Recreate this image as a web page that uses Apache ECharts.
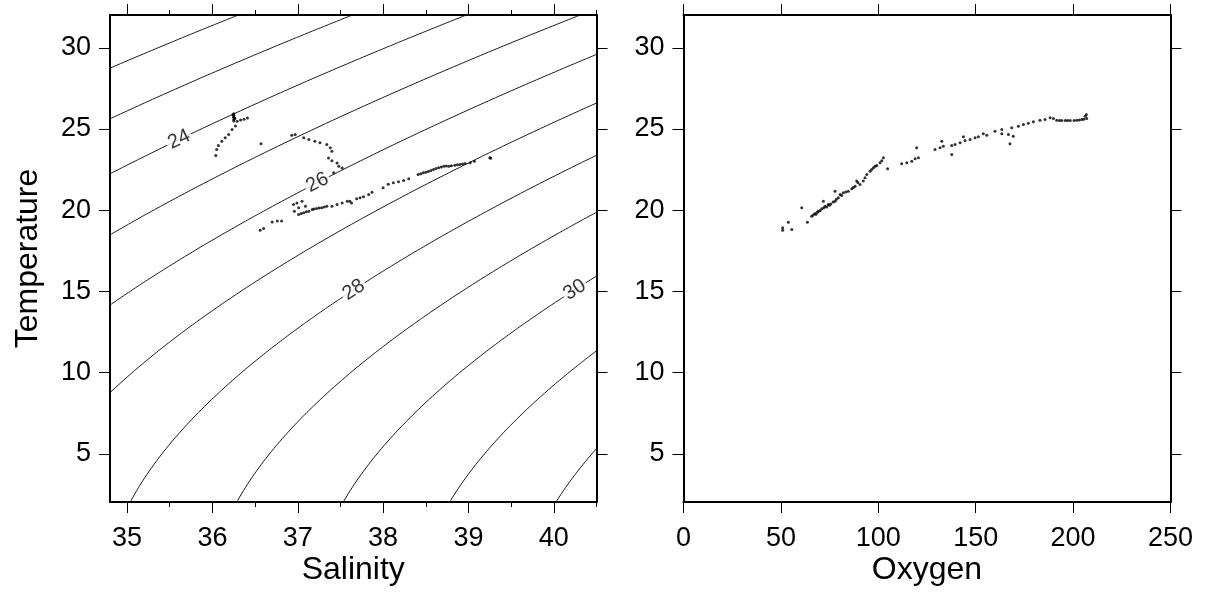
<!DOCTYPE html>
<html><head><meta charset="utf-8">
<script src="https://cdn.jsdelivr.net/npm/echarts@6/dist/echarts.min.js"></script>
<style>html,body{margin:0;padding:0;background:#fff}#c{width:1209px;height:606px}</style>
</head><body><div id="c"></div>
<script>
// ---------- data ----------
const salinityRange = [34.80, 40.50];
const tempRange = [2.03, 32.02];
const oxygenRange = [0, 250];
const salinityTicks = [35, 36, 37, 38, 39, 40];
const salinityMinorTicks = [35.5, 36.5, 37.5, 38.5, 39.5, 40.5];
const tempTicks = [5, 10, 15, 20, 25, 30];
const oxygenTicks = [0, 50, 100, 150, 200, 250];
const densityLevels = [22, 23, 24, 25, 26, 27, 28, 29, 30, 31, 32];
const labelLevels = [24, 26, 28, 30];
const labelTemps = [24.35, 21.7, 15.1, 15.1];

const tsSalinity = [
  36.25,36.25,36.25,36.25,36.26,36.25,36.25,36.29,36.33,36.37,36.41,36.27,36.23,36.19,36.15,36.11,36.07,36.05,36.04,36.57,
  36.93,36.97,37.07,37.13,37.20,37.26,37.34,37.38,37.40,37.36,37.40,37.46,37.48,37.52,37.42,
  36.95,36.99,37.05,37.01,37.09,36.96,37.01,37.07,37.13,37.17,37.22,37.28,37.34,37.40,37.46,37.52,37.58,37.63,36.56,36.60,36.70,36.76,36.81,
  37.61,37.69,37.73,37.77,37.83,37.87,38.00,38.06,38.12,38.18,38.24,38.30,38.41,38.47,38.53,38.59,38.65,38.71,38.77,38.84,38.90,38.96,39.02,39.07,39.25,
  38.68,38.74,38.80,38.87,38.93,39.26,37.04,37.10,37.19,37.25,37.31,38.44,38.50,38.56,38.62,36.24,36.26
];
const tsTemperature = [
  25.94,25.83,25.76,25.71,25.64,25.58,25.50,25.48,25.56,25.60,25.67,25.18,24.97,24.66,24.46,24.25,23.99,23.74,23.37,24.09,
  24.62,24.66,24.46,24.35,24.25,24.15,24.04,23.84,23.63,23.22,23.05,22.91,22.70,22.60,22.30,
  20.35,20.45,20.55,20.15,20.25,19.94,19.74,19.84,19.94,20.05,20.11,20.15,20.25,20.25,20.35,20.45,20.55,20.45,18.77,18.87,19.28,19.34,19.34,
  20.55,20.70,20.76,20.83,20.97,21.11,21.38,21.59,21.69,21.75,21.83,21.94,22.20,22.30,22.38,22.51,22.61,22.71,22.71,22.77,22.82,22.88,22.92,23.02,23.23,
  22.66,22.72,22.74,22.80,22.85,23.20,19.80,19.90,20.08,20.13,20.20,22.25,22.34,22.45,22.56,25.88,25.66
];

const oxOxygen = [
  50.9,50.9,53.8,55.6,60.7,63.6,65.8,67.5,69.2,71.0,72.7,74.3,71.8,77.8,77.8,79.5,80.4,82.0,84.6,86.4,88.1,88.9,90.6,92.3,94.1,95.8,97.5,99.2,100.9,102.6,104.8,
  68.0,70.2,73.5,75.6,76.8,81.2,89.5,96.6,98.4,101.8,66.6,68.8,72.0,74.9,78.5,83.3,87.2,93.2,
  112.0,114.6,117.2,118.9,120.6,119.7,129.1,131.7,133.4,132.6,137.7,137.7,139.4,142.0,143.7,144.5,147.1,149.7,151.4,153.9,155.7,159.9,163.4,163.4,166.8,167.6,168.5,169.3,
  171.9,174.5,177.0,179.6,183.0,185.6,188.2,189.9,191.6,194.2,196.0,198.5,200.5,201.9,204.5,206.2,207.0,206.8,205.5,193.0,197.2,203.2
];
const oxTemperature = [
  18.92,18.77,19.26,18.81,20.15,19.26,19.63,19.80,19.94,20.09,20.25,20.35,20.55,21.17,20.55,20.76,20.97,21.07,21.17,21.32,21.48,21.79,21.58,21.79,22.20,22.40,22.61,22.75,22.92,23.23,22.55,
  19.75,19.98,20.20,20.38,20.50,20.90,21.70,22.50,22.70,23.05,19.70,19.88,20.15,20.30,20.68,21.12,21.40,22.00,
  22.86,22.92,23.02,23.17,23.23,23.84,23.74,23.84,23.94,24.25,23.43,23.98,24.05,24.15,24.52,24.29,24.35,24.46,24.52,24.70,24.62,24.86,24.97,24.70,24.66,24.09,25.07,24.56,
  25.17,25.28,25.36,25.44,25.54,25.58,25.69,25.65,25.54,25.52,25.52,25.52,25.53,25.54,25.58,25.79,25.65,25.90,25.60,25.52,25.52,25.55
];

// ---------- seawater density (UNESCO 1980, surface) for isopycnals ----------
function rho(S, T) {
  const rw = 999.842594 + 6.793952e-2*T - 9.095290e-3*T*T + 1.001685e-4*T**3 - 1.120083e-6*T**4 + 6.536332e-9*T**5;
  const A = 8.24493e-1 - 4.0899e-3*T + 7.6438e-5*T*T - 8.2467e-7*T**3 + 5.3875e-9*T**4;
  const B = -5.72466e-3 + 1.0227e-4*T - 1.6546e-6*T*T;
  const C = 4.8314e-4;
  return rw + A*S + B*Math.pow(S, 1.5) + C*S*S;
}
function solveS(sig, T) {
  let lo = 20, hi = 50;
  for (let i = 0; i < 60; i++) {
    const m = (lo + hi) / 2;
    if (rho(m, T) - 1000 < sig) lo = m; else hi = m;
  }
  return (lo + hi) / 2;
}

const F = '"Liberation Sans", Arial, Helvetica, sans-serif';
const TICK_FS = 27, NAME_FS = 32;
const gridL = {left: 110, top: 15, width: 486.5, height: 487};
const gridR = {left: 683.5, top: 15, width: 487, height: 487};

const contourSeries = densityLevels.map(lv => {
  const pts = [];
  for (let T = tempRange[0] - 0.5; T <= tempRange[1] + 0.5; T += 0.1) pts.push([solveS(lv, T), T]);
  return {
    type: 'line', xAxisIndex: 0, yAxisIndex: 0, data: pts, showSymbol: false, symbol: 'none',
    lineStyle: {color: '#000', width: 0.9}, clip: true, silent: true, z: 2
  };
});

const pxPerS = gridL.width / (salinityRange[1] - salinityRange[0]);
const pxPerT = gridL.height / (tempRange[1] - tempRange[0]);
const labelData = labelLevels.map((lv, i) => {
  const T = labelTemps[i];
  const S = solveS(lv, T);
  const dS = solveS(lv, T + 0.5) - solveS(lv, T - 0.5);
  const ang = Math.atan2(1 * pxPerT, dS * pxPerS) * 180 / Math.PI;
  return {value: [S, T], name: String(lv), label: {rotate: ang}};
});

function axisBase(extra) {
  return Object.assign({
    type: 'value', splitLine: {show: false}, nameMoveOverlap: false,
    axisLine: {show: true, onZero: false, lineStyle: {color: '#000', width: 2}},
    axisTick: {show: true, length: 11, lineStyle: {color: '#000', width: 1}},
    axisLabel: {show: false, color: '#000', fontSize: TICK_FS, fontFamily: F}
  }, extra);
}
function ticks(vals, len) {
  return {show: true, length: len || 11, customValues: vals, lineStyle: {color: '#000', width: 1}};
}
function labels(vals, margin) {
  return {show: true, customValues: vals, color: '#000', fontSize: TICK_FS, fontFamily: F, margin: margin};
}
const nameStyle = {color: '#000', fontSize: NAME_FS, fontFamily: F};

const option = {
  animation: false,
  backgroundColor: '#fff',
  grid: [gridL, gridR, Object.assign({}, gridL)],
  xAxis: [
    axisBase({gridIndex: 0, position: 'bottom', min: salinityRange[0], max: salinityRange[1],
      axisTick: ticks(salinityTicks), axisLabel: labels(salinityTicks, 23),
      name: 'Salinity', nameLocation: 'middle', nameGap: 52, nameTextStyle: nameStyle}),
    axisBase({gridIndex: 0, position: 'top', min: salinityRange[0], max: salinityRange[1],
      axisTick: ticks(salinityTicks)}),
    axisBase({gridIndex: 1, position: 'bottom', min: oxygenRange[0], max: oxygenRange[1],
      axisTick: ticks(oxygenTicks), axisLabel: labels(oxygenTicks, 23),
      name: 'Oxygen', nameLocation: 'middle', nameGap: 52, nameTextStyle: nameStyle}),
    axisBase({gridIndex: 1, position: 'top', min: oxygenRange[0], max: oxygenRange[1],
      axisTick: ticks(oxygenTicks)}),
    axisBase({gridIndex: 2, position: 'bottom', min: salinityRange[0], max: salinityRange[1],
      axisLine: {show: false}, axisTick: ticks(salinityMinorTicks, 5)}),
    axisBase({gridIndex: 2, position: 'top', min: salinityRange[0], max: salinityRange[1],
      axisLine: {show: false}, axisTick: ticks(salinityMinorTicks, 5)})
  ],
  yAxis: [
    axisBase({gridIndex: 0, position: 'left', min: tempRange[0], max: tempRange[1],
      axisTick: ticks(tempTicks), axisLabel: labels(tempTicks, 19),
      name: 'Temperature', nameLocation: 'middle', nameGap: 66, nameRotate: 90, nameTextStyle: nameStyle}),
    axisBase({gridIndex: 0, position: 'right', min: tempRange[0], max: tempRange[1],
      axisTick: ticks(tempTicks)}),
    axisBase({gridIndex: 1, position: 'left', min: tempRange[0], max: tempRange[1],
      axisTick: ticks(tempTicks), axisLabel: labels(tempTicks, 19)}),
    axisBase({gridIndex: 1, position: 'right', min: tempRange[0], max: tempRange[1],
      axisTick: ticks(tempTicks)}),
    {type: 'value', gridIndex: 2, show: false, min: tempRange[0], max: tempRange[1]}
  ],
  series: contourSeries.concat([
    {
      type: 'scatter', xAxisIndex: 0, yAxisIndex: 0, data: labelData, symbol: 'circle', symbolSize: 1,
      itemStyle: {color: 'rgba(0,0,0,0)'}, silent: true, z: 3,
      label: {show: true, position: 'inside', formatter: p => p.name, color: '#000', fontSize: 20,
        fontFamily: F, backgroundColor: '#fff', padding: [0, 2]}
    },
    {
      type: 'scatter', xAxisIndex: 0, yAxisIndex: 0, symbolSize: 3, itemStyle: {color: '#000'}, z: 4,
      data: tsSalinity.map((s, i) => [s, tsTemperature[i]])
    },
    {
      type: 'scatter', xAxisIndex: 2, yAxisIndex: 2, symbolSize: 3, itemStyle: {color: '#000'}, z: 4,
      data: oxOxygen.map((o, i) => [o, oxTemperature[i]])
    }
  ])
};
const chart = echarts.init(document.getElementById('c'), null, {renderer: 'canvas'});
chart.setOption(option);
</script></body></html>
